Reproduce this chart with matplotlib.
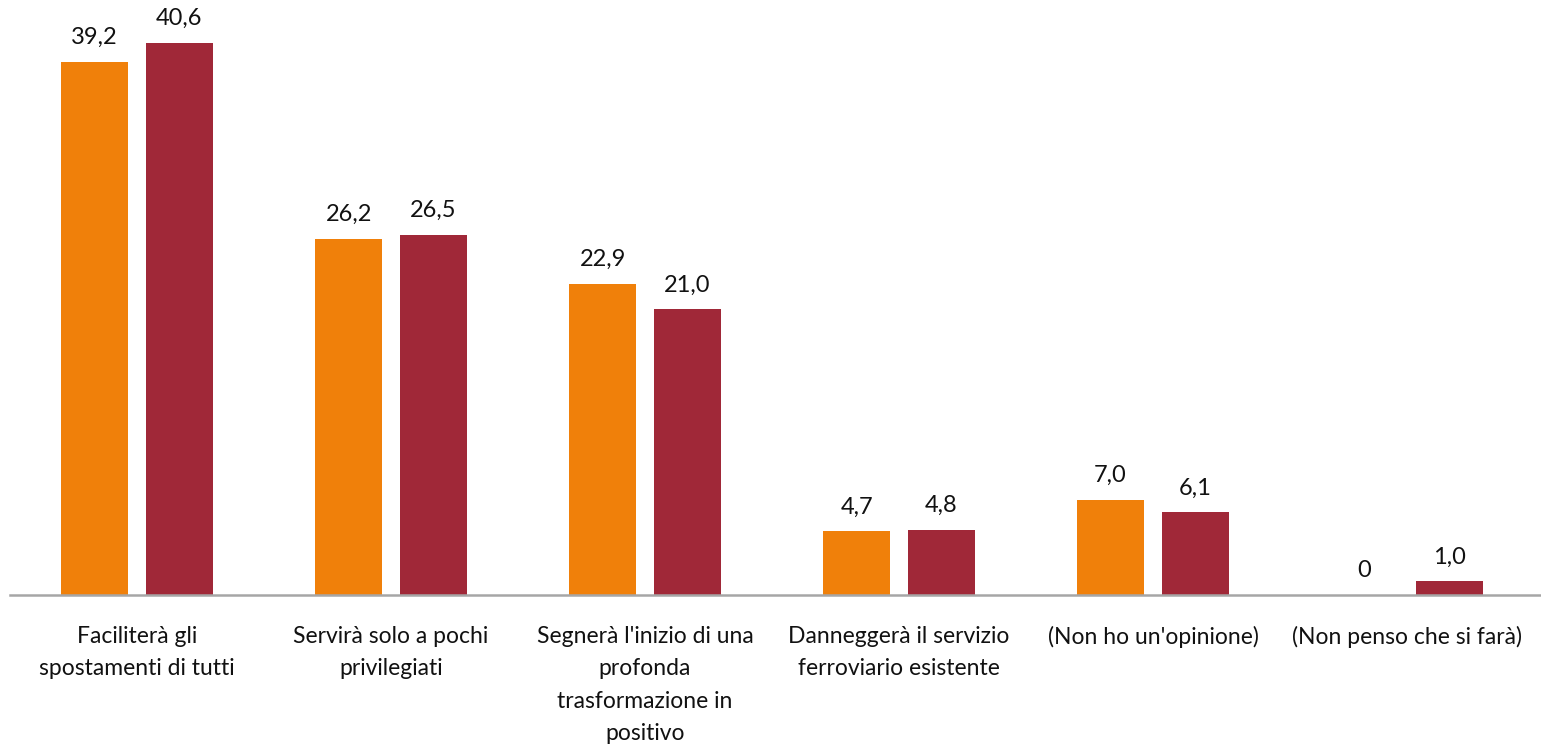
import matplotlib
matplotlib.use("Agg")
import matplotlib.pyplot as plt
import numpy as np

categories = [
    "Faciliterà gli\nspostamenti di tutti",
    "Servirà solo a pochi\nprivilegiati",
    "Segnerà l'inizio di una\nprofonda\ntrasformazione in\npositivo",
    "Danneggerà il servizio\nferroviario esistente",
    "(Non ho un'opinione)",
    "(Non penso che si farà)",
]
series_a = [39.2, 26.2, 22.9, 4.7, 7.0, 0.0]
series_b = [40.6, 26.5, 21.0, 4.8, 6.1, 1.0]
labels_a = ["39,2", "26,2", "22,9", "4,7", "7,0", "0"]
labels_b = ["40,6", "26,5", "21,0", "4,8", "6,1", "1,0"]

col_a = "#F0800A"
col_b = "#A02838"

plt.rcParams['font.family'] = ['Lato', 'DejaVu Sans']

W, H = 1541, 749
fig = plt.figure(figsize=(W/100, H/100), dpi=100)
left, right = 10, 1534
ax = fig.add_axes([left/W, (H-595)/H, (right-left)/W, 595/H])

x = np.arange(len(categories))
bw = 0.264
off = 0.167
ax.bar(x - off, series_a, width=bw, color=col_a)
ax.bar(x + off, series_b, width=bw, color=col_b)

for xi, v, l in zip(x, series_a, labels_a):
    ax.text(xi - off, v + 1.0, l, ha='center', va='bottom', fontsize=17, color='#111111')
for xi, v, l in zip(x, series_b, labels_b):
    ax.text(xi + off, v + 1.0, l, ha='center', va='bottom', fontsize=17, color='#111111')

ax.set_xlim(-0.5, len(categories) - 0.5)
ax.set_ylim(0, 43.75)
ax.set_xticks(x)
ax.set_xticklabels(categories, fontsize=16.5, color='#111111', linespacing=1.68)
ax.tick_params(axis='x', length=0, pad=22)
ax.set_yticks([])
for s in ['top', 'right', 'left']:
    ax.spines[s].set_visible(False)
ax.spines['bottom'].set_color('#A6A6A6')
ax.spines['bottom'].set_linewidth(1.8)
ax.spines['bottom'].set_bounds(-0.5, len(categories) - 0.5 + 0.03)

fig.savefig("out.png", dpi=100)
